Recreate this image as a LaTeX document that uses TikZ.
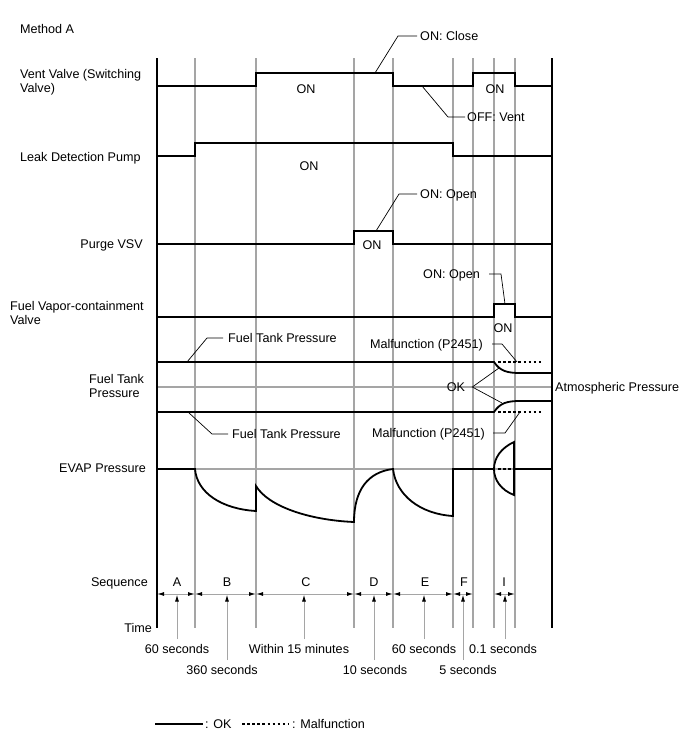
\documentclass[tikz,border=0pt]{standalone}
\usepackage{fontspec}
\setmainfont{Liberation Sans}
\usetikzlibrary{arrows.meta}
\definecolor{vgray}{RGB}{165,165,165}
\newcommand{\fs}{\fontsize{12.6}{14}\selectfont}
\tikzset{
  lbl/.style={inner sep=0pt, text height=9pt, text depth=0pt, font=\fs},
  mlbl/.style={inner sep=0pt, align=left, anchor=base west, font=\fs},
  sig/.style={line width=1.8pt, line join=miter, line cap=rect},
  vline/.style={draw=vgray, line width=1.2pt},
  border/.style={line width=1.8pt},
  leader/.style={line width=0.7pt},
  malf/.style={line width=1.8pt, dash pattern=on 2.5pt off 2.6pt},
  seqarr/.style={draw=vgray, line width=1pt, {Latex[black,length=7pt,width=4pt]}-{Latex[black,length=7pt,width=4pt]}},
  uparr/.style={draw=vgray, line width=1pt, -{Latex[black,length=7pt,width=4pt]}},
}
\begin{document}
\begin{tikzpicture}[x=1pt,y=-1pt]
\useasboundingbox (0,0) rectangle (688,755);
\fill[white] (0,0) rectangle (688,755);

% grid verticals
\foreach \x in {195,256,354,393,453,473,494,515}
  \draw[vline] (\x,58) -- (\x,628);
% grey reference lines
\draw[vline] (157,387) -- (552,387);
\draw[vline] (157,469) -- (552,469);
% borders
\draw[border] (157,58) -- (157,628);
\draw[border] (552,58) -- (552,628);

% row labels
\node[lbl, anchor=west] (methoda) at (20,29) {Method A};
\node[mlbl] (ventlbl) at (20,92.5) {Vent Valve (Switching\\Valve)};
\node[lbl, anchor=west] (leaklbl) at (20,157) {Leak Detection Pump};
\node[lbl, anchor=east] (purgelbl) at (143,244) {Purge VSV};
\node[mlbl] (fvclbl) at (10,324) {Fuel Vapor-containment\\Valve};
\node[mlbl] (ftplbl) at (89,397) {Fuel Tank\\Pressure};
\node[lbl, anchor=east] (evaplbl) at (146,468) {EVAP Pressure};
\node[lbl, anchor=east] (seqlbl) at (148,582) {Sequence};
\node[lbl, anchor=east] (timelbl) at (152,628) {Time};

% Vent valve
\draw[sig] (157,86) -- (256,86) -- (256,73) -- (393,73) -- (393,86) -- (473,86) -- (473,73) -- (515,73) -- (515,86) -- (552,86);
\node[lbl] (venton1) at (306,89) {ON};
\node[lbl] (venton2) at (495,89) {ON};
\node[lbl, anchor=west] (onclose) at (420,36) {ON: Close};
\coordinate (vc1) at (375,73);
\coordinate (vc2) at (398,36);
\draw[leader] (vc1) -- (vc2) -- ([xshift=-3pt]onclose.west);
\node[lbl, anchor=west] (offvent) at (467,117) {OFF: Vent};
\coordinate (vo1) at (422,86);
\coordinate (vo2) at (448,117);
\draw[leader] (vo1) -- (vo2) -- ([xshift=-2pt]offvent.west);

% Leak detection pump
\draw[sig] (157,156) -- (195,156) -- (195,143) -- (453,143) -- (453,156) -- (552,156);
\node[lbl] (leakon) at (309,166) {ON};

% Purge VSV
\draw[sig] (157,244) -- (354,244) -- (354,231) -- (393,231) -- (393,244) -- (552,244);
\node[lbl] (purgeon) at (372,245) {ON};
\node[lbl, anchor=west] (purgeopen) at (420,194) {ON: Open};
\coordinate (pc1) at (376,231);
\coordinate (pc2) at (399,194);
\draw[leader] (pc1) -- (pc2) -- ([xshift=-3pt]purgeopen.west);

% Fuel vapor-containment valve
\draw[sig] (157,317) -- (494,317) -- (494,304) -- (515,304) -- (515,317) -- (552,317);
\node[lbl] (fvcon) at (503,328) {ON};
\node[lbl, anchor=west] (fvcopen) at (423,274) {ON: Open};
\coordinate (fc1) at (501,274);
\coordinate (fc2) at (505,304);
\draw[leader] ([xshift=9pt]fvcopen.east) -- (fc1) -- (fc2);

% Fuel tank pressure
\draw[sig] (157,362) -- (494,362) .. controls (500,371) and (507,373) .. (520,373) -- (552,373);
\draw[sig] (157,412) -- (494,412) .. controls (500,403) and (507,401) .. (520,401) -- (552,401);
\draw[malf] (498,362) -- (541,362);
\draw[malf] (498,412) -- (541,412);
\node[lbl, anchor=west] (atm) at (555,387) {Atmospheric Pressure};

\node[lbl, anchor=west] (ftpup) at (228,338) {Fuel Tank Pressure};
\coordinate (tu1) at (207,338);
\coordinate (tu2) at (187,362);
\draw[leader] ([xshift=-5pt]ftpup.west) -- (tu1) -- (tu2);
\node[lbl, anchor=west] (ftplo) at (232,434) {Fuel Tank Pressure};
\coordinate (tl1) at (188,412);
\coordinate (tl2) at (212,434);
\draw[leader] (tl1) -- (tl2) -- ([xshift=-4pt]ftplo.west);

\node[lbl, anchor=east] (malfup) at (483,344) {Malfunction (P2451)};
\coordinate (mu1) at (502,344);
\coordinate (mu2) at (517,362);
\draw[leader] ([xshift=9pt]malfup.east) -- (mu1) -- (mu2);
\node[lbl, anchor=east] (malflo) at (485,433) {Malfunction (P2451)};
\coordinate (ml1) at (505,433);
\coordinate (ml2) at (520,412);
\draw[leader] ([xshift=8pt]malflo.east) -- (ml1) -- (ml2);

\node[lbl] (ok) at (456,387) {OK};
\coordinate (ok1) at (499,368);
\coordinate (ok2) at (502,403);
\draw[leader] (ok1) -- ([xshift=7pt]ok.east) -- (ok2);

% EVAP pressure
\draw[sig] (157,469) -- (195,469) .. controls (197,493) and (222,509) .. (256,511)
  -- (256,486) .. controls (268,506) and (308,520) .. (354,522)
  .. controls (354,490) and (368,472) .. (393,469)
  .. controls (396,495) and (420,514) .. (453,516)
  -- (453,469) -- (494,469);
\draw[sig] (514,442) .. controls (501,448) and (494,458) .. (494,469)
  .. controls (494,480) and (501,490) .. (514,495) -- cycle;
\draw[sig] (515,469) -- (552,469);
\draw[malf] (498,469) -- (512,469);

% Sequence
\foreach \a/\b in {157/195,195/256,256/354,354/393,393/453,453/473,494/515}
  \draw[seqarr] (\a,594) -- (\b,594);
\node[lbl] (sa) at (177,582) {A};
\node[lbl] (sb) at (227,582) {B};
\node[lbl] (sc) at (306,582) {C};
\node[lbl] (sd) at (374,582) {D};
\node[lbl] (se) at (425,582) {E};
\node[lbl] (sf) at (464,582) {F};
\node[lbl] (si) at (504,582) {I};

\node[lbl] (ta) at (177,649) {60 seconds};
\node[lbl] (tb) at (222,670) {360 seconds};
\node[lbl] (tc) at (299,649) {Within 15 minutes};
\node[lbl] (td) at (375,670) {10 seconds};
\node[lbl] (te) at (424,649) {60 seconds};
\node[lbl] (tf) at (468,670) {5 seconds};
\node[lbl] (ti) at (503,649) {0.1 seconds};
\foreach \x/\y in {177/639,227/660,304/639,374/660,424/639,463/660,505/639}
  \draw[uparr] (\x,\y) -- (\x,594.5);

% legend
\draw[line width=1.8pt] (155,724) -- (203,724);
\node[lbl, anchor=west] (legok) at (205,724) {: OK};
\draw[malf] (242,724) -- (288,724);
\node[lbl, anchor=west] (legmalf) at (292,724) {: Malfunction};
\end{tikzpicture}
\end{document}
